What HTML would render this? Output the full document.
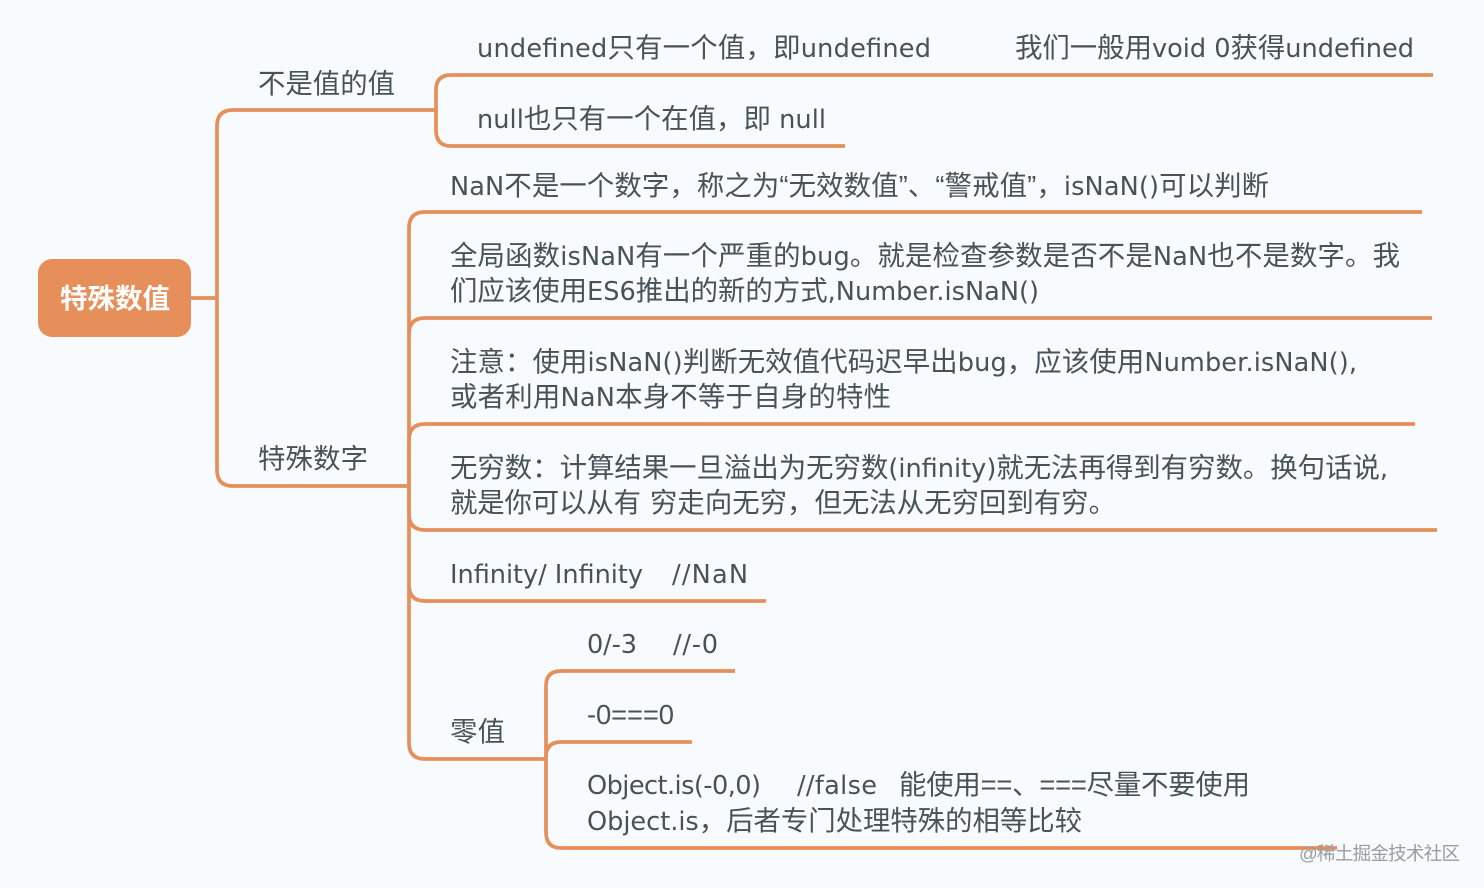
<!DOCTYPE html>
<html><head><meta charset="utf-8"><style>
html,body{margin:0;padding:0;background:#f7fbfe;width:1484px;height:888px;overflow:hidden}
svg{display:block}
text{font-family:"Liberation Sans","Noto Sans CJK SC",sans-serif;font-size:27.4px;fill:#495259;white-space:pre}
tspan.l{font-family:"DejaVu Sans",sans-serif;font-size:25.6px}
path{fill:none;stroke:#e78f5a;stroke-width:3.7}
</style></head><body>
<svg width="1484" height="888" viewBox="0 0 1484 888" xmlns="http://www.w3.org/2000/svg">
<rect width="1484" height="888" fill="#f7fbfe"/>
<path d="M190 298H217"/>
<path d="M410 110H233Q217 110 217 126V470Q217 486 233 486H408"/>
<path d="M1433 75H451Q436 75 436 90V130Q436 146 451 146H845M436 110H410"/>
<path d="M1422 212H425Q409 212 409 228V743Q409 759 425 759H545"/>
<path d="M1432 318H425Q409 318 409 334"/>
<path d="M1415 424H425Q409 424 409 440V514Q409 530 425 530H1437"/>
<path d="M409 585Q409 601 425 601H766"/>
<path d="M735 671H561Q546 671 546 686V832Q546 848 561 848H1337"/>
<path d="M692 742H561Q546 742 546 757"/>
<rect x="38" y="259" width="153" height="78" rx="14" fill="#e78f5a"/>
<text x="60" y="308" style="fill:#fff;font-weight:bold;font-size:27.5px" textLength="110">特殊数值</text>
<text x="258" y="93" textLength="137">不是值的值</text>
<text x="258" y="468" textLength="110">特殊数字</text>
<text x="477" y="57" textLength="454"><tspan class="l">undefined</tspan>只有一个值，即<tspan class="l">undefined</tspan></text>
<text x="1015" y="57" textLength="399">我们一般用<tspan class="l">void 0</tspan>获得<tspan class="l">undefined</tspan></text>
<text x="477" y="128" textLength="349"><tspan class="l">null</tspan>也只有一个在值，即<tspan class="l"> null</tspan></text>
<text x="450" y="195" textLength="819"><tspan class="l">NaN</tspan>不是一个数字，称之为“无效数值”、“警戒值”，<tspan class="l">isNaN()</tspan>可以判断</text>
<text x="450" y="265" textLength="950">全局函数<tspan class="l">isNaN</tspan>有一个严重的<tspan class="l">bug</tspan>。就是检查参数是否不是<tspan class="l">NaN</tspan>也不是数字。我</text>
<text x="450" y="300" textLength="589">们应该使用<tspan class="l">ES6</tspan>推出的新的方式<tspan class="l">,Number.isNaN()</tspan></text>
<text x="450" y="371" textLength="907">注意：使用<tspan class="l">isNaN()</tspan>判断无效值代码迟早出<tspan class="l">bug</tspan>，应该使用<tspan class="l">Number.isNaN(),</tspan></text>
<text x="450" y="406" textLength="441">或者利用<tspan class="l">NaN</tspan>本身不等于自身的特性</text>
<text x="450" y="477" textLength="938">无穷数：计算结果一旦溢出为无穷数<tspan class="l">(infinity)</tspan>就无法再得到有穷数。换句话说<tspan class="l">,</tspan></text>
<text x="450" y="512" textLength="191">就是你可以从有</text>
<text x="650" y="512" textLength="466">穷走向无穷，但无法从无穷回到有穷。</text>
<text x="450" y="583" textLength="193"><tspan class="l">Infinity/ Infinity</tspan></text>
<text x="672" y="583" textLength="76"><tspan class="l">//NaN</tspan></text>
<text x="587" y="653" textLength="50"><tspan class="l">0/-3</tspan></text>
<text x="673" y="653" textLength="45"><tspan class="l">//-0</tspan></text>
<text x="587" y="724" textLength="87">-0===0</text>
<text x="450" y="741" textLength="55">零值</text>
<text x="587" y="794" textLength="174"><tspan class="l">Object.is(-0,0)</tspan></text>
<text x="797" y="794" textLength="80"><tspan class="l">//false</tspan></text>
<text x="899" y="794" textLength="351">能使用==、===尽量不要使用</text>
<text x="587" y="830" textLength="495"><tspan class="l">Object.is</tspan>，后者专门处理特殊的相等比较</text>
<text x="1299" y="860" style="font-size:18.5px;fill:#9a9c9e" textLength="161">@稀土掘金技术社区</text>
</svg>
</body></html>
